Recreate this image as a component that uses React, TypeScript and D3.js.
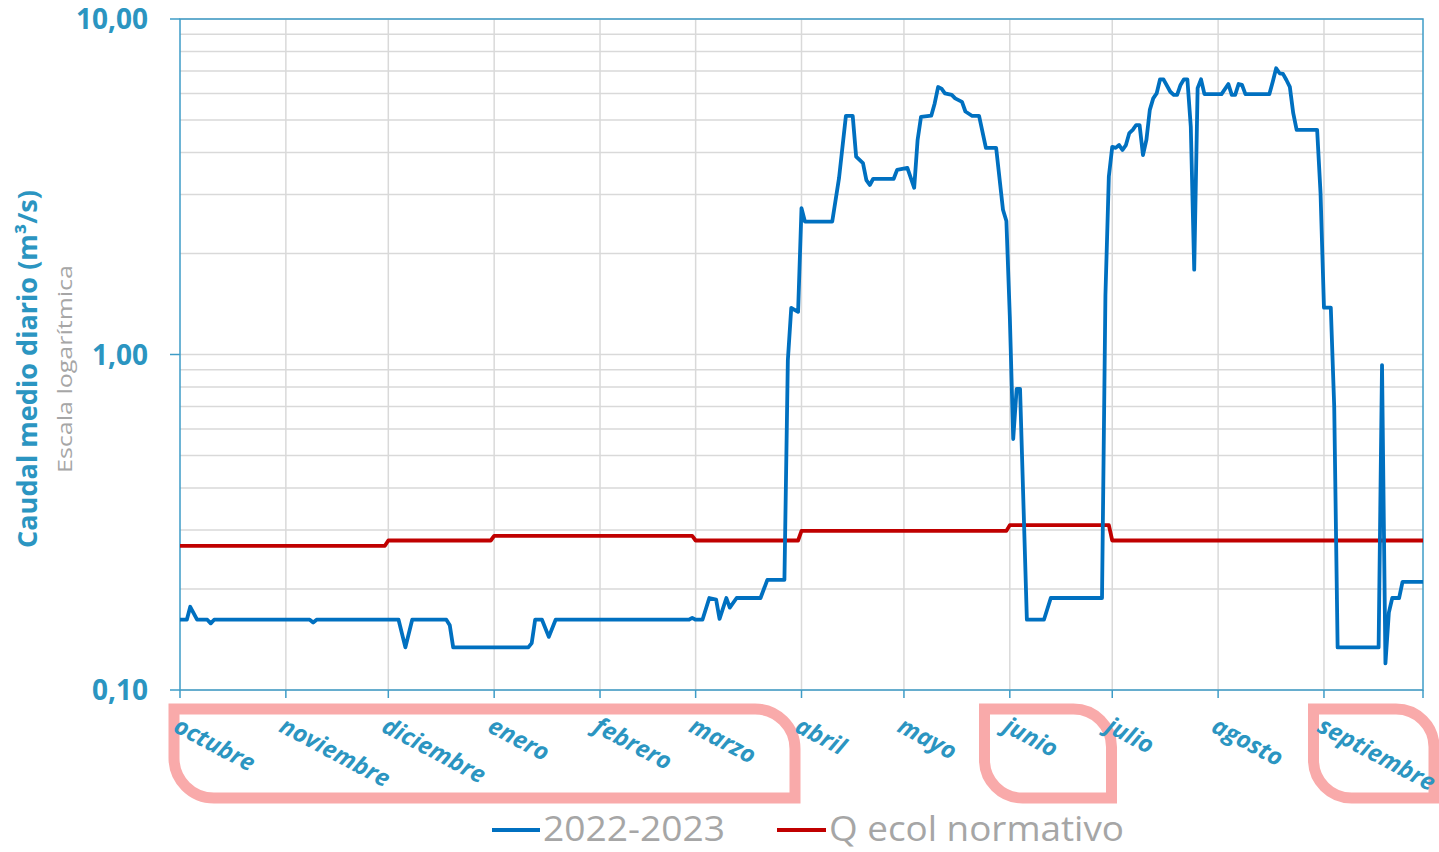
import React from "react";
import * as d3 from "d3";

// ---- DATA ----
const monthNames = ["octubre","noviembre","diciembre","enero","febrero","marzo","abril","mayo","junio","julio","agosto","septiembre"];
const monthDays = [31,30,31,31,28,31,30,31,30,31,31,30];
const qEcolMonthly = [0.269,0.269,0.279,0.288,0.288,0.279,0.298,0.298,0.310,0.279,0.279,0.279];
const yTickValues = [0.1, 1, 10];
const yTickLabels = ["0,10", "1,00", "10,00"];
const seriesNames = ["2022-2023", "Q ecol normativo"];
// caudal 2022-2023: [día del año hidrológico, m3/s]
const flow2223: [number, number][] = [
  [0,0.162],[2,0.162],[3,0.177],[5,0.162],[8,0.162],[9,0.158],[10,0.162],[38,0.162],[39,0.159],[40,0.162],
  [64,0.162],[66,0.134],[68,0.162],[78,0.162],[79,0.156],[80,0.134],[102,0.134],[103,0.138],[104,0.162],
  [106,0.162],[108,0.144],[110,0.162],[149,0.162],[150,0.164],[151,0.162],[153,0.162],[155,0.188],[157,0.186],
  [158,0.163],[160,0.188],[161,0.176],[163,0.188],[170,0.188],[172,0.213],[177,0.213],[178,0.96],[179,1.376],
  [181,1.34],[182,2.73],[183,2.49],[191,2.49],[193,3.36],[195,5.14],[197,5.14],[198,3.89],[200,3.72],[201,3.31],
  [202,3.2],[203,3.34],[209,3.34],[210,3.55],[213,3.6],[215,3.14],[216,4.36],[217,5.11],[220,5.15],[221,5.6],
  [222,6.27],[223,6.2],[224,6.0],[226,5.94],[227,5.8],[229,5.66],[230,5.3],[232,5.14],[234,5.14],[236,4.13],
  [239,4.13],[241,2.7],[242,2.5],[243,1.3],[244,0.56],[245,0.79],[246,0.79],[248,0.162],[253,0.162],[255,0.188],
  [270,0.188],[271,1.5],[272,3.39],[273,4.16],[274,4.13],[275,4.21],[276,4.07],[277,4.21],[278,4.57],[279,4.67],
  [280,4.83],[281,4.83],[282,3.93],[283,4.36],[284,5.36],[285,5.8],[286,6.0],[287,6.61],[288,6.61],[290,6.07],
  [291,5.94],[292,5.94],[293,6.36],[294,6.61],[295,6.61],[296,4.78],[297,1.79],[298,6.22],[299,6.61],[300,5.97],
  [305,5.97],[307,6.4],[308,5.94],[309,5.94],[310,6.4],[311,6.36],[312,5.97],[319,5.97],[320,6.5],[321,7.13],
  [322,6.89],[323,6.86],[324,6.58],[325,6.28],[326,5.24],[327,4.67],[333,4.67],[334,3.02],[335,1.38],[337,1.38],
  [338,0.70],[339,0.134],[351,0.134],[352,0.93],[353,0.12],[354,0.17],[355,0.188],[357,0.188],[358,0.21],[364,0.21]
];

const W = 1439, H = 852;
const left = 180, right = 1423, top = 19, bottom = 690;
const blueText = "#2B95C1";
const axisColor = "#3E9CC7";
const gridColor = "#D9D9D9";
const pink = "#F9AAAA";

export default function App() {
  const totalDays = d3.sum(monthDays);
  const x = d3.scaleLinear().domain([0, totalDays - 1]).range([left, right]);
  const y = d3.scaleLog().domain([0.1, 10]).range([bottom, top]);

  const cum = [0, ...d3.cumsum(monthDays)];
  const boundaries = cum.map((d) => Math.min(d, totalDays - 1));

  const qDaily: [number, number][] = [];
  monthDays.forEach((n, m) => {
    for (let i = 0; i < n; i++) qDaily.push([cum[m] + i, qEcolMonthly[m]]);
  });

  const line = d3.line<[number, number]>().x((d) => x(d[0])).y((d) => y(d[1]));

  const minor: number[] = [];
  [0.1, 1].forEach((k) => { for (let m = 2; m <= 9; m++) minor.push(m * k); });

  const leaf = (x0: number, y0: number, x1: number, y1: number, r: number) =>
    `M${x0},${y0} L${x1 - r},${y0} A${r},${r} 0 0 1 ${x1},${y0 + r} L${x1},${y1} L${x0 + r},${y1} A${r},${r} 0 0 1 ${x0},${y1 - r} Z`;

  return (
    <svg width={W} height={H} style={{ position: "absolute", left: 0, top: 0, background: "#fff" }}
      fontFamily="'Open Sans', 'DejaVu Sans', sans-serif">
      {/* grid */}
      {minor.map((v) => (
        <line key={"h" + v} x1={left} x2={right} y1={y(v)} y2={y(v)} stroke={gridColor} strokeWidth={1.5} />
      ))}
      {yTickValues.map((v) => (
        <line key={"hm" + v} x1={left} x2={right} y1={y(v)} y2={y(v)} stroke={gridColor} strokeWidth={1.5} />
      ))}
      {boundaries.slice(1, -1).map((d) => (
        <line key={"v" + d} x1={x(d)} x2={x(d)} y1={top} y2={bottom} stroke={gridColor} strokeWidth={1.5} />
      ))}

      {/* frame */}
      <rect x={left} y={top} width={right - left} height={bottom - top} fill="none" stroke={axisColor} strokeWidth={1.5} />
      {yTickValues.map((v) => (
        <line key={"yt" + v} x1={left - 10} x2={left} y1={y(v)} y2={y(v)} stroke={axisColor} strokeWidth={1.5} />
      ))}
      {boundaries.map((d) => (
        <line key={"xt" + d} x1={x(d)} x2={x(d)} y1={bottom} y2={bottom + 8} stroke={axisColor} strokeWidth={1.5} />
      ))}

      {/* series */}
      <path d={line(qDaily) || ""} fill="none" stroke="#C00000" strokeWidth={3.8} strokeLinejoin="round" />
      <path d={line(flow2223) || ""} fill="none" stroke="#0070C0" strokeWidth={3.8} strokeLinejoin="round" />

      {/* y tick labels */}
      {yTickValues.map((v, i) => (
        <text key={"yl" + v} x={148} y={y(v)} dy="0.36em" textAnchor="end" fill={blueText}
          fontWeight={700} fontSize={28}>{yTickLabels[i]}</text>
      ))}

      {/* y titles */}
      <text transform={`translate(37,${369}) rotate(-90)`} textAnchor="middle" fill={blueText}
        fontWeight={700} fontSize={26} textLength={358} lengthAdjust="spacingAndGlyphs">Caudal medio diario (m³/s)</text>
      <text transform={`translate(72,${369}) rotate(-90)`} textAnchor="middle" fill="#A6A6A6"
        fontSize={20} textLength={208} lengthAdjust="spacingAndGlyphs">Escala logarítmica</text>

      {/* highlight boxes */}
      <path d={leaf(174, 709, 795, 798, 40)} fill="none" stroke={pink} strokeWidth={11} />
      <path d={leaf(984.5, 709, 1111.5, 798, 38)} fill="none" stroke={pink} strokeWidth={11} />
      <path d={leaf(1313.5, 709, 1434, 798, 38)} fill="none" stroke={pink} strokeWidth={11} />

      {/* month labels */}
      {monthNames.map((m, i) => (
        <text key={m} transform={`translate(${x(cum[i]) + 1},${714}) rotate(28)`} dy="0.8em"
          fill={blueText} fontWeight={700} fontStyle="italic" fontSize={24}>{m}</text>
      ))}

      {/* legend */}
      <line x1={492} x2={540} y1={830} y2={830} stroke="#0070C0" strokeWidth={3.8} />
      <text x={543} y={841} fill="#A6A6A6" fontSize={35} textLength={182} lengthAdjust="spacingAndGlyphs">{seriesNames[0]}</text>
      <line x1={777} x2={826} y1={830} y2={830} stroke="#C00000" strokeWidth={3.8} />
      <text x={829} y={841} fill="#A6A6A6" fontSize={35} textLength={295} lengthAdjust="spacingAndGlyphs">{seriesNames[1]}</text>
    </svg>
  );
}
